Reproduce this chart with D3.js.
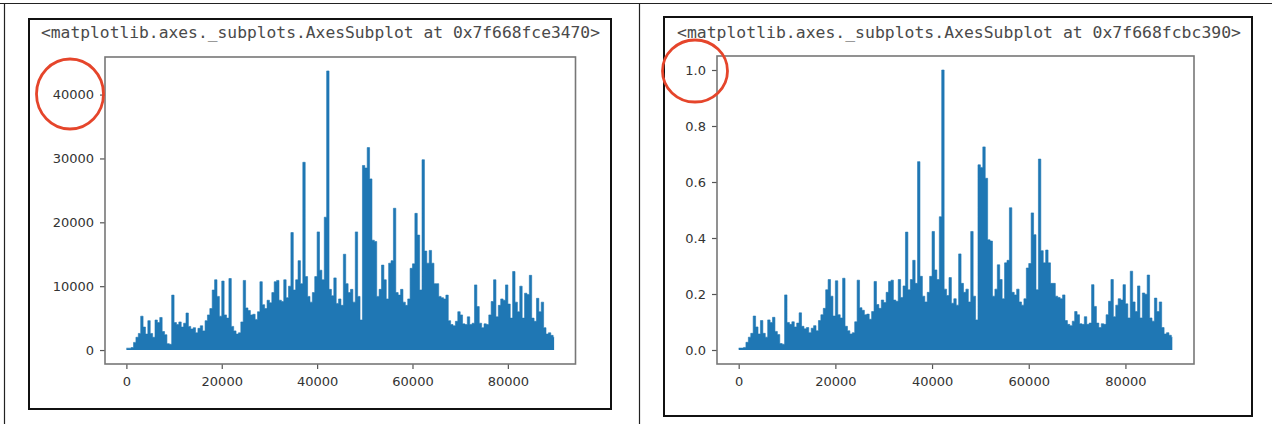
<!DOCTYPE html>
<html>
<head>
<meta charset="utf-8">
<script src="https://cdn.jsdelivr.net/npm/d3@7"></script>
<style>
    body { margin: 0; background: #fff; }
    svg { display: block; }
</style>
</head>
<body>
<div id="main"></div>
<script>
// values: max of each 500-wide bin of the raw series
const binWidth = 500;
const lastX = 89700;
const counts = [
    300, 300, 400, 1200, 2000, 2600, 5300, 3600, 2500, 4600,
    2600, 2000, 4700, 4300, 5100, 2900, 2400, 1000, 900, 8600,
    4300, 4000, 4400, 3600, 4200, 5800, 3700, 3300, 3500, 2700,
    3400, 3800, 3000, 4600, 5500, 6500, 9400, 11000, 8400, 5300,
    10800, 5500, 5000, 11200, 3700, 3000, 2500, 2700, 4400, 10900,
    6600, 6200, 5500, 5600, 4800, 6000, 10700, 7100, 6500, 7800,
    7400, 9000, 10700, 10900, 7800, 7600, 11000, 8200, 10000, 18400,
    9400, 11000, 14000, 10400, 29400, 11500, 8400, 7500, 9000, 11500,
    18500, 12500, 11000, 20800, 43700, 9500, 8500, 11300, 7300, 8000,
    7000, 15000, 10400, 9000, 9500, 7500, 18500, 8400, 4700, 28900,
    28500, 31700, 26800, 17200, 17000, 8400, 9500, 13300, 11000, 8000,
    13600, 14000, 22200, 9000, 8600, 9500, 7500, 7000, 8000, 12800,
    13500, 21400, 18000, 9400, 29800, 15500, 13600, 15600, 13600, 10400,
    10400, 8400, 8200, 8000, 8600, 4600, 4000, 3800, 4500, 6000,
    5500, 4100, 4000, 5200, 4000, 4200, 10200, 6800, 4200, 3500,
    4100, 4000, 5500, 7600, 11000, 5200, 7000, 8000, 7800, 10200,
    7200, 5000, 12300, 7500, 6000, 10000, 5000, 8900, 8700, 11700,
    5000, 4500, 8100, 6000, 7500, 3500, 2500, 2700, 2300, 2000
];
const xTicks = [0, 20000, 40000, 60000, 80000];
const rawTicks = [0, 10000, 20000, 30000, 40000];
const scaledTicks = [0.0, 0.2, 0.4, 0.6, 0.8, 1.0];
const titles = [
    "<matplotlib.axes._subplots.AxesSubplot at 0x7f668fce3470>",
    "<matplotlib.axes._subplots.AxesSubplot at 0x7f668fcbc390>"
];

const countMax = d3.max(counts);
const scaled = counts.map(v => v / countMax);

const width = 1272;
const height = 424;
const lineColor = "#1f77b4";

const svg = d3.select("#main")
    .append("svg")
    .attr("width", width)
    .attr("height", height);

//table lines around the two cells
svg.append("line").attr("x1", 0).attr("x2", width).attr("y1", 3.5).attr("y2", 3.5)
    .attr("stroke", "#222").attr("stroke-width", 1.2);
svg.append("line").attr("x1", 4.5).attr("x2", 4.5).attr("y1", 3.5).attr("y2", height)
    .attr("stroke", "#222").attr("stroke-width", 1.2);
svg.append("line").attr("x1", 639.5).attr("x2", 639.5).attr("y1", 3.5).attr("y2", height)
    .attr("stroke", "#222").attr("stroke-width", 1.2);

function drawPanel(p) {
    //black frame of the screenshot
    svg.append("rect")
        .attr("x", p.frame[0]).attr("y", p.frame[1])
        .attr("width", p.frame[2] - p.frame[0]).attr("height", p.frame[3] - p.frame[1])
        .attr("fill", "#fff").attr("stroke", "#111").attr("stroke-width", 2);

    svg.append("text")
        .attr("x", p.titleX).attr("y", 38)
        .attr("textLength", p.titleW)
        .attr("lengthAdjust", "spacingAndGlyphs")
        .attr("font-family", "DejaVu Sans Mono")
        .attr("font-size", 15)
        .attr("fill", "#4a4a4a")
        .text(p.title);

    const x = d3.scaleLinear()
        .domain([-0.05 * lastX, lastX * 1.05])
        .range([p.left, p.right]);
    const yMax = d3.max(p.values);
    const y = d3.scaleLinear()
        .domain([-0.05 * yMax, yMax * 1.05])
        .range([p.bottom, p.top]);

    const pts = p.values.map((v, i) => [i * binWidth, v]);
    pts.push([lastX, p.values[p.values.length - 1]]);

    const area = d3.area()
        .curve(d3.curveStepAfter)
        .x(d => x(d[0]))
        .y0(y(0))
        .y1(d => y(d[1]));
    const line = d3.line()
        .curve(d3.curveStepAfter)
        .x(d => x(d[0]))
        .y(d => y(d[1]));

    svg.append("path").attr("d", area(pts)).attr("fill", lineColor);
    svg.append("path").attr("d", line(pts))
        .attr("fill", "none").attr("stroke", lineColor).attr("stroke-width", 0.6);

    //axes with matplotlib looking ticks
    const yAxis = svg.append("g")
        .attr("transform", `translate(${p.left},0)`)
        .call(d3.axisLeft(y).tickValues(p.yTicks).tickFormat(p.fmt).tickSize(5).tickPadding(6));
    const xAxis = svg.append("g")
        .attr("transform", `translate(0,${p.bottom})`)
        .call(d3.axisBottom(x).tickValues(xTicks).tickFormat(d3.format("d")).tickSize(5).tickPadding(8));
    [yAxis, xAxis].forEach(g => {
        g.select(".domain").remove();
        g.selectAll(".tick line").attr("stroke", "#555").attr("stroke-width", 1.2);
        g.selectAll(".tick text")
            .attr("font-family", "DejaVu Sans")
            .attr("font-size", 13)
            .attr("fill", "#333");
    });

    svg.append("rect")
        .attr("x", p.left).attr("y", p.top)
        .attr("width", p.right - p.left).attr("height", p.bottom - p.top)
        .attr("fill", "none").attr("stroke", "#777").attr("stroke-width", 1.6);

    //red circle marking the top tick label
    svg.append("ellipse")
        .attr("cx", p.circle[0]).attr("cy", p.circle[1])
        .attr("rx", p.circle[2]).attr("ry", p.circle[3])
        .attr("fill", "none").attr("stroke", "#e5452b").attr("stroke-width", 2.8);
}

drawPanel({
    frame: [29, 19, 611, 409],
    title: titles[0], titleX: 41, titleW: 559,
    left: 105, right: 575.5, top: 57, bottom: 364,
    values: counts, yTicks: rawTicks, fmt: d3.format("d"),
    circle: [70, 94, 33.5, 35]
});

drawPanel({
    frame: [664, 17, 1252, 416],
    title: titles[1], titleX: 677, titleW: 564,
    left: 717, right: 1194, top: 56, bottom: 364,
    values: scaled, yTicks: scaledTicks, fmt: d3.format(".1f"),
    circle: [695, 71, 32.5, 31]
});
</script>
</body>
</html>
